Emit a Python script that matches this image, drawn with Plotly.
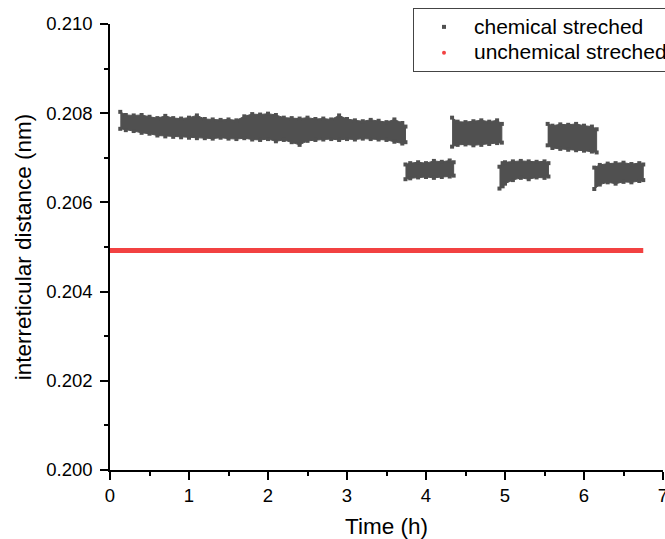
import plotly.graph_objects as go

# ---- data (upper / lower envelope of the dense point cloud) ----
time_seg1 = [0.13, 0.2, 0.3, 0.4, 0.5, 0.6, 0.7, 0.8, 0.9, 1.0, 1.1, 1.2, 1.3, 1.4, 1.5, 1.6, 1.7, 1.8, 1.9,
             2.0, 2.1, 2.2, 2.3, 2.4, 2.5, 2.6, 2.7, 2.8, 2.9, 3.0, 3.1, 3.2, 3.3, 3.4, 3.5, 3.6, 3.7, 3.74]
upper_seg1 = [0.20803, 0.20796, 0.20795, 0.20796, 0.20792, 0.20789, 0.20794, 0.20789, 0.20788, 0.20790,
              0.20795, 0.20787, 0.20786, 0.20785, 0.20786, 0.20784, 0.20793, 0.20798, 0.20797, 0.20799,
              0.20796, 0.20790, 0.20789, 0.20788, 0.20790, 0.20787, 0.20788, 0.20786, 0.20795, 0.20787,
              0.20784, 0.20782, 0.20785, 0.20783, 0.20780, 0.20786, 0.20778, 0.20770]
lower_seg1 = [0.20765, 0.20762, 0.20760, 0.20756, 0.20754, 0.20750, 0.20748, 0.20747, 0.20746, 0.20745,
              0.20744, 0.20744, 0.20743, 0.20745, 0.20743, 0.20742, 0.20744, 0.20741, 0.20740, 0.20742,
              0.20737, 0.20740, 0.20735, 0.20729, 0.20738, 0.20740, 0.20741, 0.20742, 0.20740, 0.20742,
              0.20741, 0.20743, 0.20742, 0.20741, 0.20740, 0.20736, 0.20732, 0.20735]

time_seg2 = [3.74, 3.8, 3.9, 4.0, 4.1, 4.2, 4.3, 4.35]
upper_seg2 = [0.20685, 0.20688, 0.20690, 0.20688, 0.20693, 0.20691, 0.20694, 0.20690]
lower_seg2 = [0.20652, 0.20654, 0.20656, 0.20657, 0.20655, 0.20657, 0.20658, 0.20660]

time_seg3 = [4.33, 4.4, 4.5, 4.6, 4.7, 4.8, 4.9, 4.96]
upper_seg3 = [0.20790, 0.20781, 0.20780, 0.20782, 0.20784, 0.20781, 0.20784, 0.20776]
lower_seg3 = [0.20725, 0.20729, 0.20730, 0.20728, 0.20729, 0.20731, 0.20733, 0.20734]

time_seg4 = [4.93, 4.97, 5.0, 5.1, 5.2, 5.3, 5.4, 5.5, 5.55]
upper_seg4 = [0.20680, 0.20688, 0.20690, 0.20692, 0.20693, 0.20692, 0.20691, 0.20692, 0.20688]
lower_seg4 = [0.20631, 0.20636, 0.20642, 0.20650, 0.20655, 0.20652, 0.20656, 0.20655, 0.20658]

time_seg5 = [5.54, 5.6, 5.7, 5.8, 5.9, 6.0, 6.1, 6.16]
upper_seg5 = [0.20776, 0.20772, 0.20775, 0.20774, 0.20776, 0.20772, 0.20770, 0.20764]
lower_seg5 = [0.20728, 0.20722, 0.20720, 0.20718, 0.20717, 0.20716, 0.20714, 0.20712]

time_seg6 = [6.13, 6.2, 6.3, 6.4, 6.5, 6.6, 6.7, 6.75]
upper_seg6 = [0.20678, 0.20684, 0.20687, 0.20688, 0.20689, 0.20686, 0.20688, 0.20685]
lower_seg6 = [0.20630, 0.20640, 0.20645, 0.20642, 0.20646, 0.20645, 0.20648, 0.20650]

red_times = [0.0, 6.75]
red_values = [0.20492, 0.20492]

series_names = ["chemical streched", "unchemical streched"]
x_title = "Time (h)"
y_title = "interreticular distance (nm)"

GREY = "#505050"
RED = "#f24141"
FONT = "Arial, Liberation Sans, sans-serif"

segments = [
    (time_seg1, upper_seg1, lower_seg1),
    (time_seg2, upper_seg2, lower_seg2),
    (time_seg3, upper_seg3, lower_seg3),
    (time_seg4, upper_seg4, lower_seg4),
    (time_seg5, upper_seg5, lower_seg5),
    (time_seg6, upper_seg6, lower_seg6),
]

fig = go.Figure()
for t, u, l in segments:
    fig.add_trace(go.Scatter(
        x=list(t) + list(t)[::-1],
        y=list(u) + list(l)[::-1],
        mode="lines+markers",
        fill="toself",
        fillcolor=GREY,
        line=dict(color=GREY, width=1),
        marker=dict(symbol="square", size=4, color=GREY),
        showlegend=False,
        hoverinfo="skip",
    ))

fig.add_trace(go.Scatter(
    x=red_times, y=red_values, mode="lines",
    line=dict(color=RED, width=5), showlegend=False, hoverinfo="skip",
))

# legend entries (row height from a 17.5px legend font, label text drawn at 21px)
fig.add_trace(go.Scatter(x=[None], y=[None], mode="markers",
                         name='<span style="font-size:21px">%s</span>' % series_names[0],
                         marker=dict(symbol="square", size=4, color=GREY)))
fig.add_trace(go.Scatter(x=[None], y=[None], mode="markers",
                         name='<span style="font-size:21px">%s</span>' % series_names[1],
                         marker=dict(symbol="circle", size=4, color=RED)))

axis_common = dict(
    showline=True, linecolor="black", linewidth=1.5,
    ticks="outside", ticklen=8, tickwidth=1.5, tickcolor="black",
    showgrid=False, zeroline=False,
    tickfont=dict(family=FONT, size=18.5, color="black"),
    ticklabeloverflow="allow",
)

fig.update_layout(
    width=665, height=539,
    margin=dict(l=110, r=2, t=24, b=69, autoexpand=False),
    paper_bgcolor="white", plot_bgcolor="white",
    font=dict(family=FONT, color="black"),
    xaxis=dict(
        range=[0, 7], tick0=0, dtick=1,
        minor=dict(dtick=0.5, ticklen=4, tickwidth=1.5, ticks="outside", tickcolor="black"),
        title=dict(text=x_title, font=dict(family=FONT, size=22.5), standoff=14),
        **axis_common,
    ),
    yaxis=dict(
        range=[0.200, 0.210], tick0=0.200, dtick=0.002, tickformat=".3f",
        minor=dict(dtick=0.001, ticklen=4, tickwidth=1.5, ticks="outside", tickcolor="black"),
        title=dict(text=y_title, font=dict(family=FONT, size=22.5), standoff=8),
        ticklabelstandoff=4,
        **axis_common,
    ),
    legend=dict(
        x=(413 - 110) / 553, xanchor="left", y=(470 - 8) / 446, yanchor="top",
        bordercolor="#444444", borderwidth=1, bgcolor="white",
        font=dict(family=FONT, size=17.5, color="black"),
        itemwidth=50,
    ),
)

fig.write_html("out.html")
